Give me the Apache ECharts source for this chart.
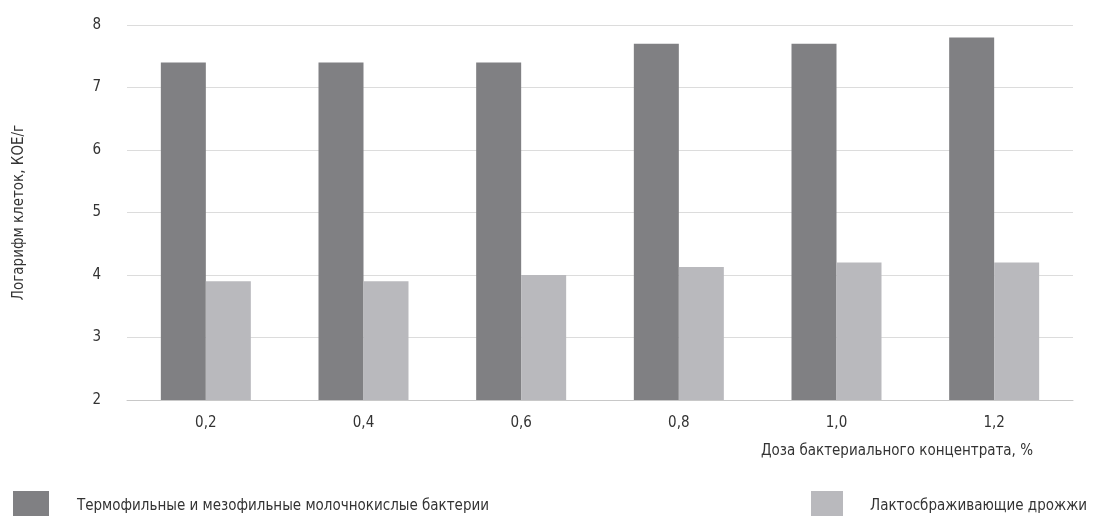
<!DOCTYPE html>
<html>
<head>
<meta charset="utf-8">
<script src="https://cdn.jsdelivr.net/npm/echarts@6/dist/echarts.min.js"></script>
<style>
  html, body { margin: 0; padding: 0; background: #fff; }
  #chart { width: 1110px; height: 516px; }
</style>
</head>
<body>
<div id="chart"></div>
<script>
// доза бактериального концентрата, %
var doses = ['0,2', '0,4', '0,6', '0,8', '1,0', '1,2'];
// логарифм клеток, КОЕ/г
var bacteria = [7.4, 7.4, 7.4, 7.7, 7.7, 7.8];
var yeast = [3.9, 3.9, 4.0, 4.13, 4.2, 4.2];
var yTicks = [2, 3, 4, 5, 6, 7, 8];

var seriesNames = ['Термофильные и мезофильные молочнокислые бактерии', 'Лактосбраживающие дрожжи'];
var colors = ['#808083', '#b9b9bd'];
var font = "'Liberation Sans Narrow', 'DejaVu Sans Condensed', 'Noto Sans', sans-serif";

var chart = echarts.init(document.getElementById('chart'));

var option = {
  animation: false,
  textStyle: { fontFamily: font, color: '#333' },
  grid: { left: 127, right: 37, top: 25, bottom: 116 },
  legend: [
    {
      left: 8, top: 486,
      itemWidth: 36, itemHeight: 30,
      icon: 'rect',
      data: [seriesNames[0]],
      textStyle: { fontFamily: font, fontSize: 15, color: '#333', padding: [0, 0, 0, 23] }
    },
    {
      left: 806, top: 486,
      itemWidth: 32, itemHeight: 30,
      icon: 'rect',
      data: [seriesNames[1]],
      textStyle: { fontFamily: font, fontSize: 15, color: '#333', padding: [0, 0, 0, 22] }
    }
  ],
  xAxis: {
    type: 'category',
    data: doses,
    name: 'Доза бактериального концентрата, %',
    nameLocation: 'end',
    nameGap: 0,
    nameTextStyle: {
      fontFamily: font, fontSize: 15, color: '#333',
      align: 'right', verticalAlign: 'top', padding: [44, 40, 0, 0]
    },
    axisLine: { lineStyle: { color: '#c8c8c8' } },
    axisTick: { show: false },
    axisLabel: { fontFamily: font, fontSize: 15, color: '#333', margin: 16 }
  },
  yAxis: {
    type: 'value',
    min: yTicks[0],
    max: yTicks[yTicks.length - 1],
    interval: 1,
    name: 'Логарифм клеток, КОЕ/г',
    nameLocation: 'middle',
    nameGap: 100,
    nameTextStyle: { fontFamily: font, fontSize: 15, color: '#333' },
    axisLine: { show: false },
    axisTick: { show: false },
    axisLabel: { fontFamily: font, fontSize: 15, color: '#333', margin: 26 },
    splitLine: { lineStyle: { color: '#dcdcdc' } }
  },
  series: [
    {
      name: seriesNames[0],
      type: 'bar',
      data: bacteria,
      barWidth: 45,
      barGap: '0%',
      itemStyle: { color: colors[0] }
    },
    {
      name: seriesNames[1],
      type: 'bar',
      data: yeast,
      barWidth: 45,
      itemStyle: { color: colors[1] }
    }
  ]
};

chart.setOption(option);
</script>
</body>
</html>
